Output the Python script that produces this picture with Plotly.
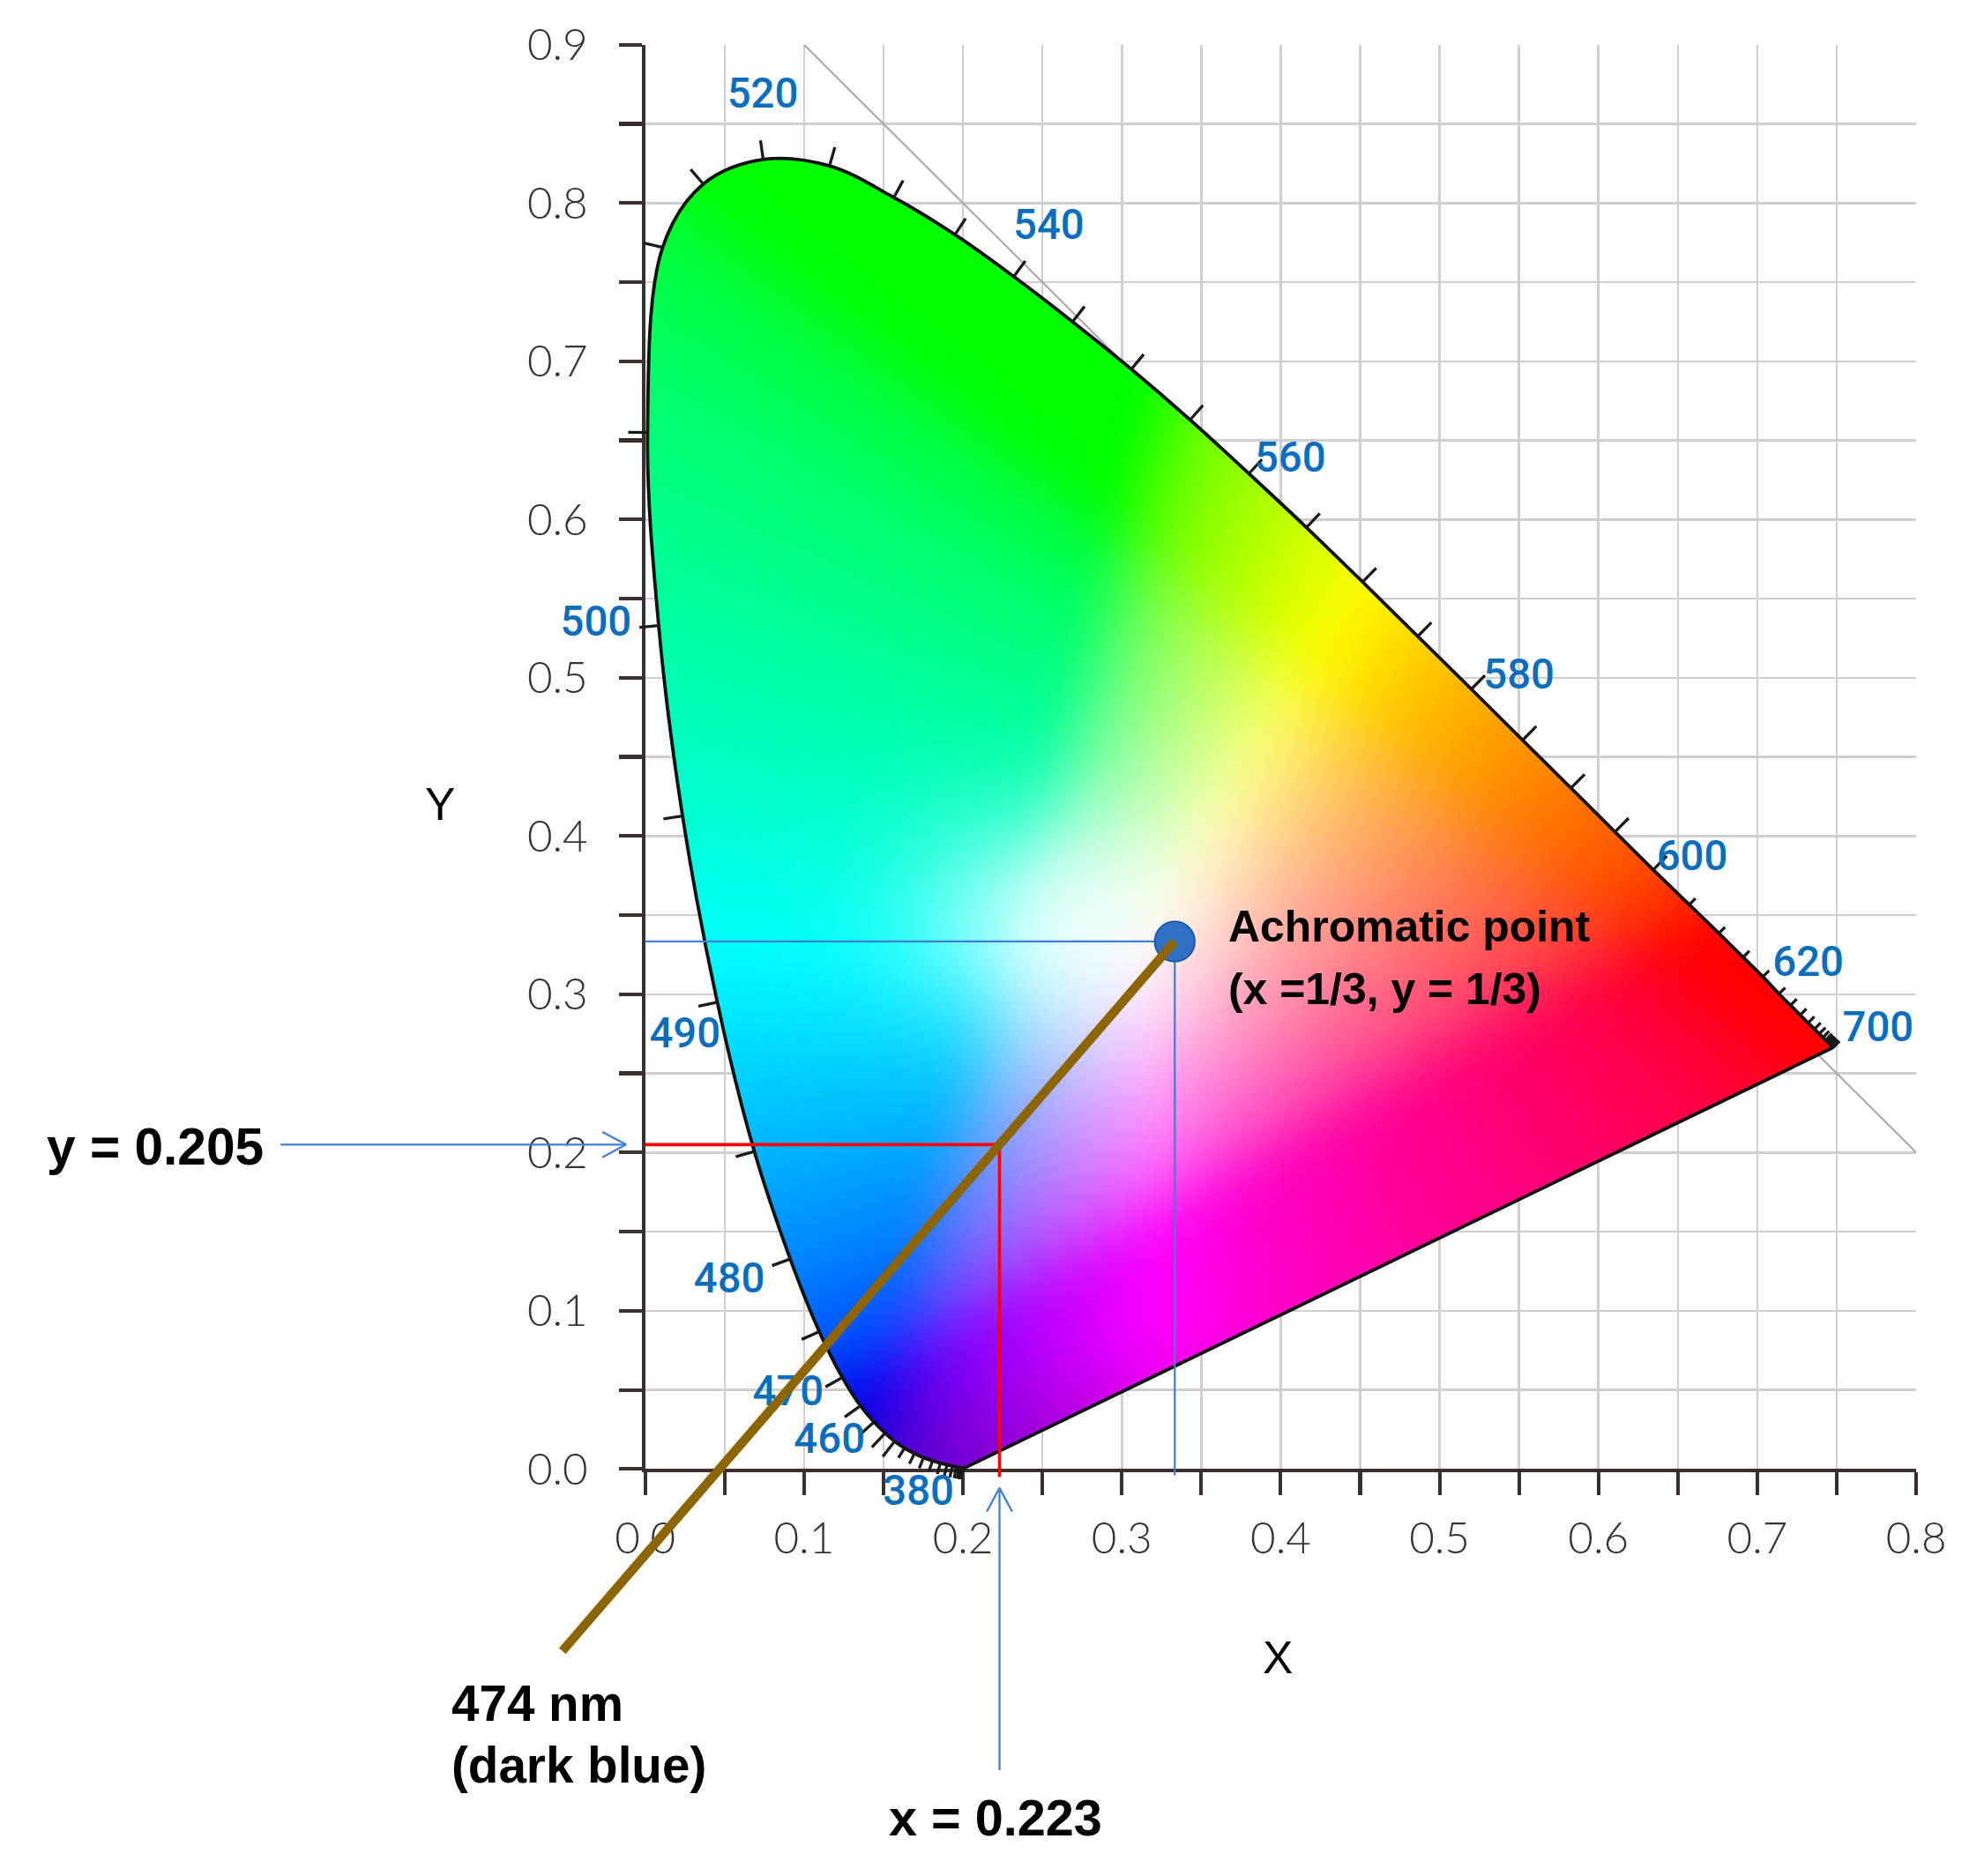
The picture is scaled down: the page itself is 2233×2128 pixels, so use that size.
import base64
import struct
import zlib

import numpy as np
import plotly.graph_objects as go

# ------------------------------------------------------------------ data
# spectral locus (chromaticity x, y) every 5 nm
wavelengths = list(range(380, 705, 5))
locus_x = [0.2005, 0.2003, 0.2000, 0.1995, 0.1987, 0.1975, 0.1958, 0.1933, 0.1900, 0.1858,
           0.1808, 0.1752, 0.1695, 0.1632, 0.1570, 0.1510, 0.1440, 0.1355, 0.1241, 0.1096,
           0.0913, 0.0687, 0.0454, 0.0235, 0.0085, 0.0015, 0.0110, 0.0366, 0.0743, 0.1160,
           0.1565, 0.1950, 0.2320, 0.2690, 0.3060, 0.3430, 0.3800, 0.4162, 0.4516, 0.4863,
           0.5200, 0.5523, 0.5827, 0.6104, 0.6345, 0.6572, 0.6758, 0.6911, 0.7035, 0.7136,
           0.7209, 0.7270, 0.7320, 0.7360, 0.7390, 0.7413, 0.7430, 0.7441, 0.7450, 0.7457,
           0.7464, 0.7470, 0.7474, 0.7476, 0.7477]
locus_y = [0.0004, 0.0005, 0.0006, 0.0007, 0.0008, 0.0010, 0.0013, 0.0018, 0.0026, 0.0037,
           0.0052, 0.0072, 0.0098, 0.0132, 0.0175, 0.0227, 0.0297, 0.0399, 0.0578, 0.0868,
           0.1327, 0.2007, 0.2950, 0.4127, 0.5330, 0.6550, 0.7720, 0.8120, 0.8275, 0.8235,
           0.8035, 0.7800, 0.7535, 0.7250, 0.6950, 0.6630, 0.6290, 0.5950, 0.5605, 0.5262,
           0.4928, 0.4606, 0.4303, 0.4026, 0.3786, 0.3566, 0.3385, 0.3234, 0.3111, 0.3003,
           0.2930, 0.2869, 0.2819, 0.2780, 0.2750, 0.2727, 0.2710, 0.2699, 0.2690, 0.2683,
           0.2676, 0.2670, 0.2666, 0.2664, 0.2663]

# wavelength labels
label_nm = [520, 540, 560, 580, 600, 620, 700, 500, 490, 480, 470, 460, 380]

# achromatic point and the 474 nm example
achromatic_x, achromatic_y = 1 / 3, 1 / 3
sample_x, sample_y = 0.223, 0.205

# axis ranges (ticks every 0.1, minor every 0.05)
x_range = [0.0, 0.8]
y_range = [0.0, 0.9]
diag_x = [0.1, 0.8]                 # the x + y = 1 line

# ------------------------------------------------------------------ layout positions (not data)
label_pos_x = [0.074, 0.254, 0.406, 0.550, 0.659, 0.732, 0.776, -0.031, 0.025, 0.053, 0.090, 0.116, 0.172]
label_pos_y = [0.867, 0.784, 0.637, 0.500, 0.385, 0.318, 0.277, 0.533, 0.273, 0.118, 0.047, 0.017, -0.016]
brown_end_y = -0.115

# the photographed page is shrunk by K and shifted by C (measured), so compensate
K, C = 0.972, 39.0
W, H = 2217, 2112


def fpx(ref_px):
    return (ref_px - C) / K


def S(v):
    return v / K


def Si(v):
    return int(round(v / K))


X0_F, X1_F = fpx(730.6), fpx(2176.0)     # x=0 and x=0.8 in the reference
Y0_F, Y1_F = fpx(1666.0), fpx(49.8)      # y=0 and y=0.9 in the reference

xdom = [X0_F / W, X1_F / W]
ydom = [(H - Y0_F) / H, (H - Y1_F) / H]
xu = (x_range[1] - x_range[0]) / (xdom[1] - xdom[0])
yu = (y_range[1] - y_range[0]) / (ydom[1] - ydom[0])
x2range = [x_range[0] - xdom[0] * xu, x_range[1] + (1 - xdom[1]) * xu]
y2range = [y_range[0] - ydom[0] * yu, y_range[1] + (1 - ydom[1]) * yu]
SX = (X1_F - X0_F) / (x_range[1] - x_range[0])
SY = (Y0_F - Y1_F) / (y_range[1] - y_range[0])

SANS = "Liberation Sans, Arial, sans-serif"
TICKFONT = "Lato, Liberation Sans, sans-serif"
LABELFONT = "Roboto, Liberation Sans, sans-serif"
AXIS_COLOR = "#3b2f2f"
GRID_COLOR = "#cfcfcf"
BLUE = "#3f7fd6"
LABEL_BLUE = "#0a6ebd"

lx = np.array(locus_x)
ly = np.array(locus_y)


# ------------------------------------------------------------------ spline identical to plotly's
def plotly_spline(xv, yv, smoothing=1.0, n=24):
    pts = np.column_stack([np.asarray(xv) * SX, np.asarray(yv) * SY])
    tang = []
    for i in range(1, len(pts) - 1):
        p0, p1, p2 = pts[i - 1], pts[i], pts[i + 1]
        d1 = p0 - p1
        d2 = p2 - p1
        d1a = (d1 @ d1) ** 0.25
        d2a = (d2 @ d2) ** 0.25
        num = (d2a * d2a * d1 - d1a * d1a * d2) * smoothing
        den1 = 3 * d2a * (d1a + d2a)
        den2 = 3 * d1a * (d1a + d2a)
        c0 = p1 + (num / den1 if den1 else 0)
        c1 = p1 - (num / den2 if den2 else 0)
        tang.append((c0, c1))
    t = np.linspace(0, 1, n, endpoint=False)[:, None]

    def quad(a, c, b):
        return (1 - t) ** 2 * a + 2 * (1 - t) * t * c + t ** 2 * b

    def cub(a, c1, c2, b):
        return (1 - t) ** 3 * a + 3 * (1 - t) ** 2 * t * c1 + 3 * (1 - t) * t ** 2 * c2 + t ** 3 * b

    segs = [quad(pts[0], tang[0][0], pts[1])]
    for i in range(2, len(pts) - 1):
        segs.append(cub(pts[i - 1], tang[i - 2][1], tang[i - 1][0], pts[i]))
    segs.append(quad(pts[-2], tang[-1][1], pts[-1]))
    dense = np.vstack(segs + [pts[-1:]])
    return dense[:, 0] / SX, dense[:, 1] / SY


poly_x, poly_y = plotly_spline(lx, ly)

# ------------------------------------------------------------------ colour image of the gamut
NX, NY = 800, 900
dx = (x_range[1] - x_range[0]) / NX
dy = (y_range[1] - y_range[0]) / NY
xs_l = np.arange(NX) * dx
xs_r = xs_l + dx
xs_c = xs_l + dx / 2
ys_c = (np.arange(NY) + 0.5) * dy

alpha = np.zeros((NY, NX))
x1, y1 = poly_x, poly_y
x2, y2 = np.roll(poly_x, -1), np.roll(poly_y, -1)
for r, yv in enumerate(ys_c):
    m = (y1 > yv) != (y2 > yv)
    if not m.any():
        continue
    xc = np.sort(x1[m] + (yv - y1[m]) * (x2[m] - x1[m]) / (y2[m] - y1[m]))
    for a, b in zip(xc[0::2], xc[1::2]):
        alpha[r] += np.clip(np.minimum(b, xs_r) - np.maximum(a, xs_l), 0, dx) / dx
alpha = np.clip(alpha, 0, 1)

GX, GY = np.meshgrid(xs_c, ys_c)
yy = np.maximum(GY, 1e-3)
Xc = GX / yy
Zc = np.maximum(1 - GX - GY, 0) / yy
rr = 3.2406 * Xc - 1.5372 - 0.4986 * Zc
gg = -0.9689 * Xc + 1.8758 + 0.0415 * Zc
bb = 0.0557 * Xc - 0.2040 + 1.0570 * Zc
rgb = np.clip(np.stack([rr, gg, bb], -1), 0, None)
rgb /= np.maximum(rgb.max(-1, keepdims=True), 1e-9)
rgb = np.where(rgb <= 0.0031308, 12.92 * rgb, 1.055 * np.power(rgb, 1 / 2.4) - 0.055)

# whitish glow around the neutral area and deeper tones toward the violet tip
glow = 0.8 * np.exp(-(((GX - 0.26) / 0.085) ** 2 + ((GY - 0.345) / 0.065) ** 2))
rgb = rgb + (1 - rgb) * glow[..., None]
rgb = rgb * (0.8 + 0.2 * np.clip(GY / 0.08, 0, 1))[..., None]


def box_blur(a, rad, axis):
    pad = [(0, 0)] * a.ndim
    pad[axis] = (rad + 1, rad)
    c = np.cumsum(np.pad(a, pad, mode="edge"), axis=axis)
    n = a.shape[axis]
    hi = np.take(c, np.arange(2 * rad + 1, 2 * rad + 1 + n), axis=axis)
    lo = np.take(c, np.arange(0, n), axis=axis)
    return (hi - lo) / (2 * rad + 1)


for _ in range(3):
    rgb = box_blur(rgb, 15, 0)
    rgb = box_blur(rgb, 15, 1)

rgba = np.concatenate([rgb, alpha[..., None]], -1)
rgba = (np.clip(rgba, 0, 1) * 255 + 0.5).astype(np.uint8)


def png_uri(arr):
    h, w, _ = arr.shape
    raw = b"".join(b"\x00" + arr[i].tobytes() for i in range(h))

    def chunk(tag, data):
        return (struct.pack(">I", len(data)) + tag + data +
                struct.pack(">I", zlib.crc32(tag + data) & 0xFFFFFFFF))

    png = (b"\x89PNG\r\n\x1a\n" +
           chunk(b"IHDR", struct.pack(">IIBBBBB", w, h, 8, 6, 0, 0, 0)) +
           chunk(b"IDAT", zlib.compress(raw, 9)) + chunk(b"IEND", b""))
    return "data:image/png;base64," + base64.b64encode(png).decode()


# row 0 of the PNG is drawn at y0 (bottom) on a non-reversed axis
img_uri = png_uri(rgba)

fig = go.Figure()
fig.add_trace(go.Image(source=img_uri, x0=dx / 2, dx=dx, y0=dy / 2, dy=dy,
                       zsmooth="fast", hoverinfo="skip", xaxis="x", yaxis="y"))

# x + y = 1 diagonal, above the grid but under the colour fill
fig.add_shape(type="line", xref="x", yref="y", layer="between",
              x0=diag_x[0], y0=1 - diag_x[0], x1=diag_x[1], y1=1 - diag_x[1],
              line=dict(color="#a8a8a8", width=S(2)))

ov = dict(xaxis="x2", yaxis="y2", hoverinfo="skip", showlegend=False)

# spectral locus outline and purple line
fig.add_trace(go.Scatter(x=locus_x, y=locus_y, mode="lines",
                         line=dict(color="#111111", width=S(3.7), shape="spline",
                                   smoothing=1, simplify=False), **ov))
fig.add_trace(go.Scatter(x=[locus_x[-1], locus_x[0]], y=[locus_y[-1], locus_y[0]], mode="lines",
                         line=dict(color="#111111", width=S(3.7)), **ov))

# wavelength tick marks (outward normals)
px_ = lx * SX
py_ = ly * SY
tx = np.gradient(px_)
ty = np.gradient(py_)
nrm = np.hypot(tx, ty)
nx_, ny_ = -ty / nrm, tx / nrm
tk_x, tk_y = [], []
for i, wl in enumerate(wavelengths):
    L = S(22 if 450 <= wl <= 600 else (13 if wl < 450 else 10))
    tk_x += [locus_x[i], locus_x[i] + nx_[i] * L / SX, None]
    tk_y += [locus_y[i], locus_y[i] + ny_[i] * L / SY, None]
fig.add_trace(go.Scatter(x=tk_x, y=tk_y, mode="lines",
                         line=dict(color="#1a1a1a", width=S(3.2)), **ov))

# wavelength labels
fig.add_trace(go.Scatter(x=label_pos_x, y=label_pos_y, mode="text",
                         text=[str(v) for v in label_nm], textposition="middle center",
                         textfont=dict(family=LABELFONT, size=S(46), color=LABEL_BLUE, weight=500),
                         **ov))

# blue guide lines through the achromatic point
fig.add_trace(go.Scatter(x=[0, achromatic_x, None, achromatic_x, achromatic_x],
                         y=[achromatic_y, achromatic_y, None, achromatic_y, -0.004],
                         mode="lines", line=dict(color=BLUE, width=S(2.2)), **ov))

# red guide lines for the 474 nm example
fig.add_trace(go.Scatter(x=[0, sample_x, sample_x], y=[sample_y, sample_y, -0.005],
                         mode="lines", line=dict(color="#ff0000", width=S(3.5)), **ov))

# blue open arrows
AL, AW = 0.015, 0.008
h_start, h_tip = -0.2295, -0.012
v_start, v_tip = -0.1904, -0.012
arr_x = [h_start, h_tip, None, h_tip - AL, h_tip, h_tip - AL, None,
         sample_x, sample_x, None, sample_x - AW, sample_x, sample_x + AW]
arr_y = [sample_y, sample_y, None, sample_y + AW, sample_y, sample_y - AW, None,
         v_start, v_tip, None, v_tip - AL, v_tip, v_tip - AL]
fig.add_trace(go.Scatter(x=arr_x, y=arr_y, mode="lines",
                         line=dict(color=BLUE, width=S(2.2)), **ov))

# achromatic point marker
fig.add_trace(go.Scatter(x=[achromatic_x], y=[achromatic_y], mode="markers",
                         marker=dict(size=S(44), color="#2d72c4",
                                     line=dict(color="#1d5aa5", width=S(2))),
                         **ov))

# brown line from achromatic point through the sample point
slope = (achromatic_y - sample_y) / (achromatic_x - sample_x)
brown_end_x = achromatic_x + (brown_end_y - achromatic_y) / slope
fig.add_trace(go.Scatter(x=[achromatic_x, brown_end_x], y=[achromatic_y, brown_end_y],
                         mode="lines", line=dict(color="#8c6400", width=S(10)), **ov))


# ------------------------------------------------------------------ text annotations
def note(text, x, y, size, family=SANS, xanchor="left"):
    fig.add_annotation(text=text, x=x, y=y, xref="x2", yref="y2", showarrow=False,
                       xanchor=xanchor, yanchor="middle",
                       font=dict(family=family, size=S(size), color="#000000"))


note("<b>Achromatic point</b>", 0.366, 0.343, 48.5)
note("<b>(x =1/3, y = 1/3)</b>", 0.366, 0.3035, 48.5)
note("<b>y = 0.205</b>", -0.378, 0.2038, 57)
note("<b>474 nm</b>", -0.123, -0.1481, 55)
note("<b>(dark blue)</b>", -0.123, -0.1871, 55)
note("<b>x = 0.223</b>", 0.152, -0.2205, 56)
note("X", 0.398, -0.119, 50, xanchor="center")
note("Y", -0.129, 0.420, 50, xanchor="center")

tick_font = dict(family=TICKFONT, size=S(48), color="#333333", weight=300)
common = dict(ticks="outside", ticklen=Si(25), tickwidth=S(4), tickcolor=AXIS_COLOR,
              showline=True, linecolor=AXIS_COLOR, linewidth=S(4),
              showgrid=True, gridcolor=GRID_COLOR, gridwidth=S(2.5),
              zeroline=False, tickfont=tick_font, tickformat=".1f",
              tick0=0, dtick=0.1, fixedrange=True, ticklabeloverflow="allow",
              minor=dict(dtick=0.05, tick0=0, ticks="outside", ticklen=Si(25), tickwidth=S(4),
                         tickcolor=AXIS_COLOR, showgrid=True, gridcolor=GRID_COLOR,
                         gridwidth=S(2.5)))

fig.update_layout(
    width=W, height=H, autosize=False,
    margin=dict(l=0, r=0, t=0, b=0, pad=0),
    paper_bgcolor="white", plot_bgcolor="rgba(0,0,0,0)",
    showlegend=False, hovermode=False, dragmode=False,
    xaxis=dict(domain=xdom, range=x_range, anchor="y", ticklabelstandoff=Si(6), **common),
    yaxis=dict(domain=ydom, range=y_range, anchor="x", scaleanchor=False,
               ticklabelstandoff=Si(24), **common),
    xaxis2=dict(domain=[0, 1], range=x2range, anchor="y2", visible=False, fixedrange=True),
    yaxis2=dict(domain=[0, 1], range=y2range, anchor="x2", visible=False, fixedrange=True),
)

fig.write_html("out.html", config={"staticPlot": True, "displayModeBar": False})
